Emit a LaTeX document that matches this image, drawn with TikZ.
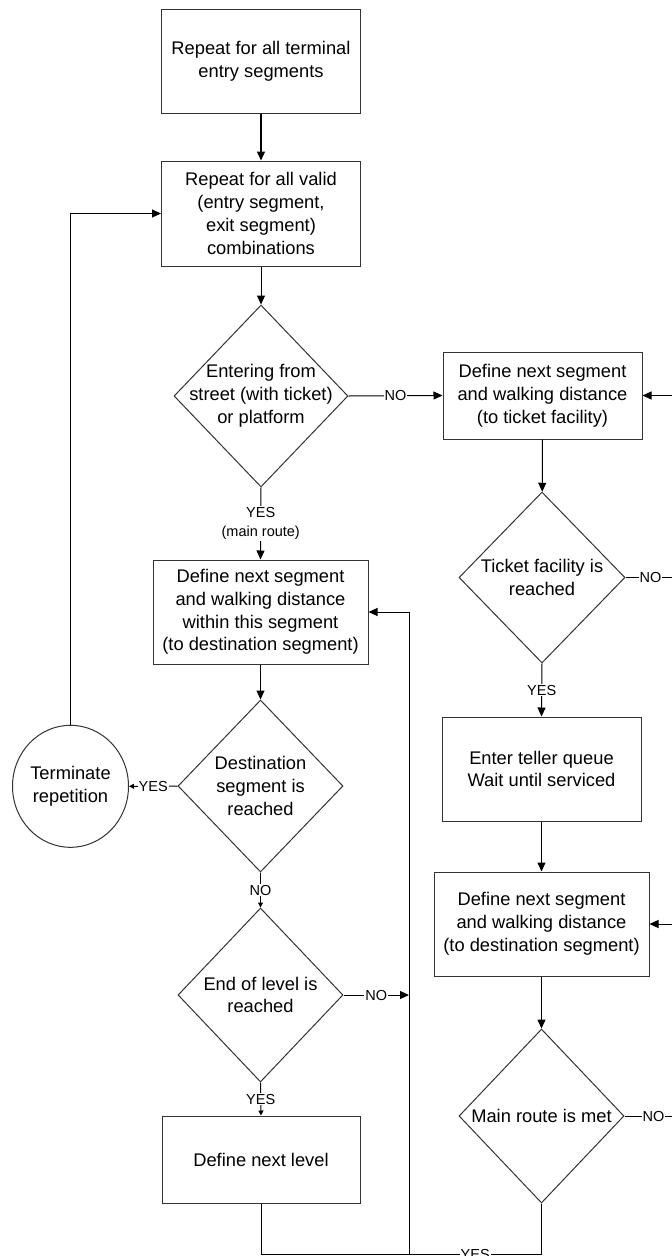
\documentclass[tikz,border=0pt]{standalone}
\usepackage{fontspec}
\setmainfont{Liberation Sans}
\usetikzlibrary{shapes.geometric,arrows.meta}
\begin{document}
\begin{tikzpicture}[x=1pt,y=-1pt,
  font=\fontsize{18.3}{22.8}\selectfont,
  box/.style={draw=black!80, line width=1pt, rectangle, inner sep=0pt, align=center},
  dec/.style={draw=black!80, line width=1pt, diamond, inner sep=0pt},
  dtext/.style={align=center, inner sep=0pt},
  term/.style={draw=black!80, line width=1pt, ellipse, inner sep=0pt, align=center},
  lbl/.style={fill=white, inner sep=1pt, font=\fontsize{14.5}{19}\selectfont, align=center},
  flow/.style={line width=1pt, -{Triangle[length=9pt,width=8pt]}},
  flowsmall/.style={line width=1pt, -{Triangle[length=5pt,width=5pt]}},
  link/.style={line width=1pt}]

\useasboundingbox (0,0) rectangle (672,1256);
\clip (0,0) rectangle (672,1256);

% outer repetition boxes
\node[box, minimum width=199, minimum height=104] (b1) at (261,61)
  {Repeat for all terminal\\entry segments};
\node[box, minimum width=199, minimum height=105] (b2) at (261,213.5)
  {Repeat for all valid\\(entry segment,\\exit segment)\\combinations};

% entry decision
\node[dec, minimum width=174, minimum height=182,
  label={[dtext]center:Entering from\\street (with ticket)\\or platform}] (d1) at (261,396) {};

% ticket branch (right column)
\node[box, minimum width=199, minimum height=87] (b3) at (542.5,395.5)
  {Define next segment\\and walking distance\\(to ticket facility)};
\node[dec, minimum width=166, minimum height=171,
  label={[dtext]center:Ticket facility is\\reached}] (d2) at (542,577.5) {};
\node[box, minimum width=199, minimum height=104] (b4) at (541.5,769)
  {Enter teller queue\\Wait until serviced};
\node[box, minimum width=215, minimum height=104] (b5) at (541.5,924)
  {Define next segment\\and walking distance\\(to destination segment)};
\node[dec, minimum width=165, minimum height=174,
  label={[dtext]center:Main route is met}] (d3) at (541.5,1116) {};

% main route (left column)
\node[box, minimum width=215, minimum height=104] (b6) at (260.5,612)
  {Define next segment\\and walking distance\\within this segment\\(to destination segment)};
\node[dec, minimum width=165, minimum height=172,
  label={[dtext]center:Destination\\segment is\\reached}] (d4) at (260.5,786) {};
\node[term, minimum width=116, minimum height=122] (t) at (70.5,786.3)
  {Terminate\\repetition};
\node[dec, minimum width=165, minimum height=174,
  label={[dtext]center:End of level is\\reached}] (d5) at (260.5,995) {};
\node[box, minimum width=198, minimum height=87] (b7) at (261,1159.5)
  {Define next level};

\coordinate (join) at (409,1254);

% connectors
\draw[flow, line width=1.4pt] (b1) -- (b2);
\draw[flow] (b2) -- (d1);
\draw[flow] (d1.east) -- node[lbl]{NO} (b3.west);
\draw[flow] (d1.south) -- node[lbl]{YES\\(main route)} (b6.north);

\draw[flow] (b3) -- (d2);
\draw[flow] (d2.east) -- node[lbl]{NO} ++(50,0) |- (b3.east);
\draw[flow] (d2.south) -- node[lbl]{YES} (b4.north);
\draw[flow] (b4) -- (b5);
\draw[flow, line width=1.4pt] (b5) -- (d3);
\draw[flow] (d3.east) -- node[lbl]{NO} ++(58,0) |- (b5.east);
\draw[link] (d3.south) |- node[lbl, pos=0.75]{YES} (join);

\draw[flow] (b6) -- (d4);
\draw[flowsmall] (d4.west) -- node[lbl]{YES} (t.east);
\draw[flow] (t.north) |- (b2.west);
\draw[flowsmall] (d4.south) -- node[lbl]{NO} (d5.north);
\draw[flow] (d5.east) -- node[lbl]{NO} (d5.east -| join);
\draw[flowsmall] (d5.south) -- node[lbl]{YES} (b7.north);
\draw[link] (b7.south) |- (join);
\draw[flow] (join) |- (b6.east);
\end{tikzpicture}
\end{document}
